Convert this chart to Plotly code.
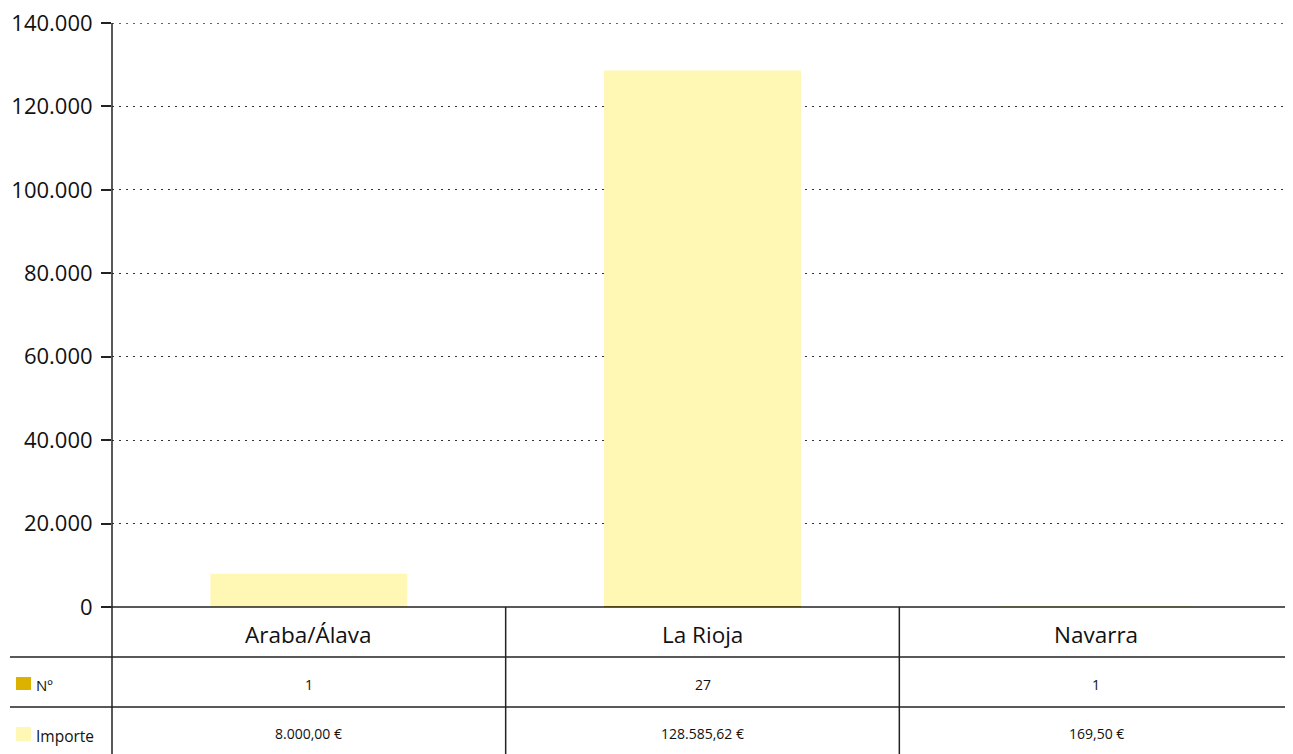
import plotly.graph_objects as go

categories = ["Araba/Álava", "La Rioja", "Navarra"]
num_values = [1, 27, 1]
importe_values = [8000.00, 128585.62, 169.50]
num_labels = ["1", "27", "1"]
importe_labels = ["8.000,00 €", "128.585,62 €", "169,50 €"]
series_names = ["Nº", "Importe"]
y_ticks = [0, 20000, 40000, 60000, 80000, 100000, 120000, 140000]
y_max = 140000

GOLD = "#DDB100"
LIGHT = "#FFF7B4"
FONT = "Open Sans"

OFF = 8  # page body margin
W, H = 1293 - OFF, 754 - OFF
ML, MR, MT, MB = 112 - OFF, 0, 23 - OFF, 147
PH = H - MT - MB
PW = W - ML - MR

def py(px_below):
    # paper y for a pixel distance below the x axis
    return -px_below / PH

def px_(x):
    # paper x for a page pixel x
    return (x - 112) / PW

fig = go.Figure()
fig.add_trace(go.Bar(x=categories, y=importe_values, name=series_names[1],
                     marker=dict(color=LIGHT, line=dict(width=0)), width=0.5))
fig.add_trace(go.Bar(x=categories, y=num_values, name=series_names[0],
                     marker=dict(color=GOLD, line=dict(width=0)), width=0.5))

shapes = []
annotations = []
line_col = "#222"
# top gridline (at the range edge)
shapes.append(dict(type="line", xref="paper", yref="y", x0=0, x1=1, y0=y_max, y1=y_max,
                   line=dict(color="#333", width=1.3, dash="2px,5px")))
# y axis line extended through table
shapes.append(dict(type="line", xref="paper", yref="paper", x0=0, x1=0, y0=py(MB), y1=1,
                   line=dict(color=line_col, width=1.5)))
# x axis line
shapes.append(dict(type="line", xref="paper", yref="paper", x0=px_(102), x1=1, y0=0, y1=0,
                   line=dict(color=line_col, width=1.5)))
# horizontal table lines
for d in (50, 100):
    shapes.append(dict(type="line", xref="paper", yref="paper", x0=px_(10), x1=1, y0=py(d), y1=py(d),
                       line=dict(color=line_col, width=1.5)))
# vertical separators between categories
for i in range(1, len(categories)):
    shapes.append(dict(type="line", xref="x", yref="paper", x0=i - 0.5, x1=i - 0.5, y0=py(MB), y1=0,
                       line=dict(color=line_col, width=1.5)))
# legend keys
shapes.append(dict(type="rect", xref="paper", yref="paper", x0=px_(16), x1=px_(31),
                   y0=py(83), y1=py(70), fillcolor=GOLD, line=dict(width=0)))
shapes.append(dict(type="rect", xref="paper", yref="paper", x0=px_(16), x1=px_(31),
                   y0=py(134), y1=py(120), fillcolor=LIGHT, line=dict(width=0)))

annotations.append(dict(text=series_names[0], xref="paper", yref="paper", x=px_(34), y=py(78),
                        xanchor="left", yanchor="middle", showarrow=False,
                        font=dict(family=FONT, size=15, color="#111")))
annotations.append(dict(text=series_names[1], xref="paper", yref="paper", x=px_(34), y=py(129),
                        xanchor="left", yanchor="middle", showarrow=False,
                        font=dict(family=FONT, size=15.5, color="#111")))

for i, c in enumerate(categories):
    annotations.append(dict(text=c, xref="x", yref="paper", x=c, y=py(27), xanchor="center",
                            yanchor="middle", showarrow=False,
                            font=dict(family=FONT, size=22.5, color="#111")))
    annotations.append(dict(text=num_labels[i], xref="x", yref="paper", x=c, y=py(77), xanchor="center",
                            yanchor="middle", showarrow=False,
                            font=dict(family=FONT, size=14, color="#111")))
    annotations.append(dict(text=importe_labels[i], xref="x", yref="paper", x=c, y=py(126), xanchor="center",
                            yanchor="middle", showarrow=False,
                            font=dict(family=FONT, size=14, color="#111")))

fig.update_layout(
    width=W, height=H,
    margin=dict(l=ML, r=MR, t=MT, b=MB, pad=0),
    paper_bgcolor="white", plot_bgcolor="white",
    barmode="overlay",
    showlegend=False,
    separators=",.",
    shapes=shapes,
    annotations=annotations,
    font=dict(family=FONT, color="#111"),
)
fig.update_xaxes(showticklabels=False, showgrid=False, zeroline=False, showline=False,
                 ticks="", range=[-0.5, 2.5], fixedrange=True)
fig.update_yaxes(range=[0, y_max], tickvals=y_ticks, tickformat=",d",
                 showgrid=True, gridcolor="#333", gridwidth=1.3, griddash="2px,5px",
                 zeroline=False, showline=False, ticks="outside", ticklen=10, tickcolor=line_col,
                 tickwidth=1.5, tickfont=dict(family=FONT, size=22, color="#111"), ticklabelstandoff=4,
                 ticklabeloverflow="allow")

fig.write_html("out.html")
